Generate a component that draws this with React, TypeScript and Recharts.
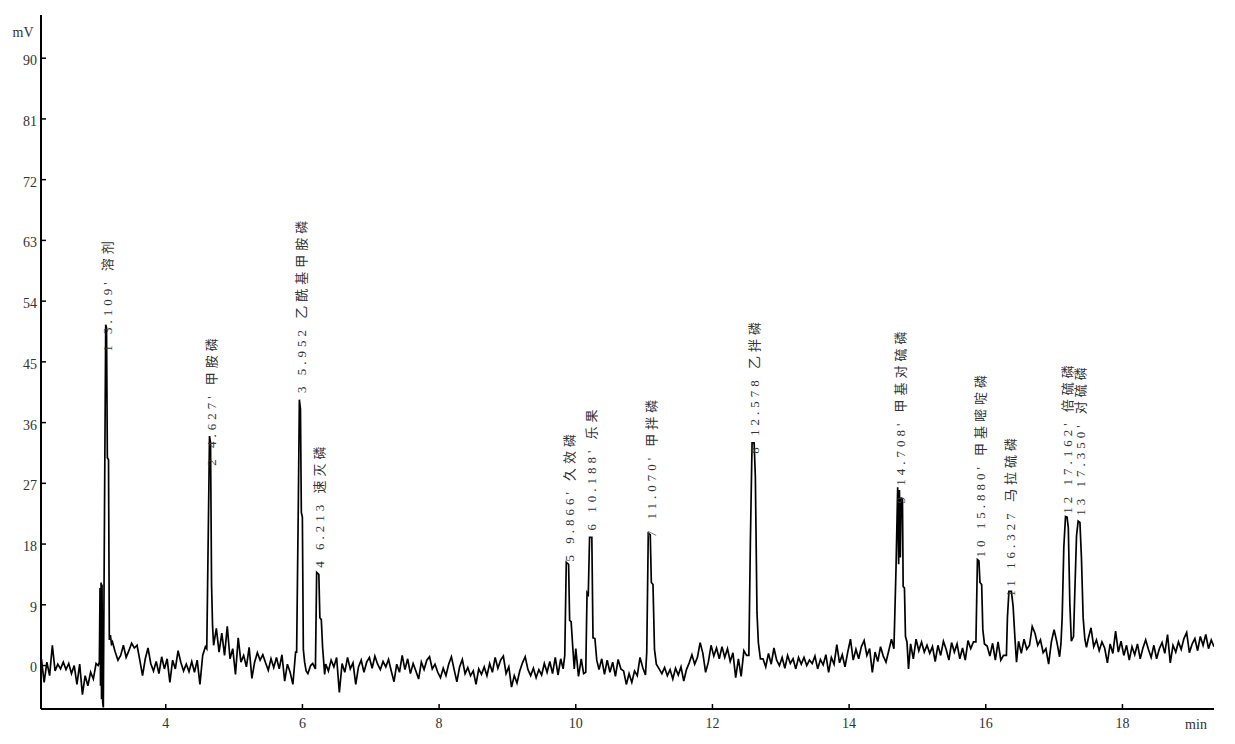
import { ComposedChart, Line, Scatter, XAxis, YAxis } from "recharts"

// detector samples every 0.04 min on the flat stretches
const SAMPLE_STEP = 0.04

// baseline stretches (start time in min, values in mV)
const base1 = { start: 2.18, values: [1.0, -2.5, 0.5, -1.5, 3.0, -0.8, 0.2, -0.5, 0.5, -0.6, 0.3, -1.2, 0.0, -2.8, 0.2, -4.3, -1.5, -3.0, -1.0, -2.0, 0.3] }
const base2 = { start: 3.22, values: [3.5, 2.0, 0.8, 1.5, 3.0, 1.2, 2.2, 3.3, 2.6, 3.0, 0.8, -1.5, 1.0, 2.6, 0.3, -0.8, 0.6, -1.2, 1.3, -0.5, 1.0, -2.5, 0.8, -0.5, 2.2, 0.5, -0.8, 0.2, -0.9, 0.6, -1.0, 0.8, -2.8, 1.5, 2.8] }
const base3 = { start: 4.74, values: [5.5, 2.0, 4.8, 1.5, 5.8, 1.0, 2.5, -1.3, 4.1, 0.5, 1.5, -0.2, 2.7, -1.9, 0.5, 1.9, 0.8, 1.6, 0.4, -0.7, 1.0, -0.3, 1.2, -0.5, 1.6, -2.3, 0.2, -1.0, -2.8, 2.0] }
const base4 = { start: 6.34, values: [0.2, -0.8, 0.8, -0.2, 1.2, -4.0, 0.3, -1.0, 1.2, -0.5, 0.4, -2.8, -0.2, 0.8, -1.0, 0.5, 1.2, -0.4, 1.4, 0.2, -0.6, 0.6, -0.2, 0.9, -0.8, -2.4, 0.2, -1.0, 1.5, -0.6] }
const base5 = { start: 7.54, values: [1.0, -1.2, 0.3, -0.8, -2.0, 0.5, -0.6, 0.8, 1.3, -0.5, 0.2, -1.0, -1.8, -0.4, -1.5, 0.2, 1.3, -0.6, -2.4, -0.2, 0.9, -1.2, -0.3, -1.5, -0.8, -2.8, -0.5, -1.3, -0.2, -1.5, 0.3, -1.0, 1.2, -0.4, 0.8, 1.4, -1.2, -0.2, -3.2, -1.5, -2.6, -0.8, 0.4, 1.3, -0.6, -1.5, -0.4, -1.8, -0.6, -1.4, 0.3, -1.0, 0.6, -1.2, 1.2, -1.4, 1.0] }
const base6 = { start: 10.34, values: [-0.6, 1.0, -1.3, 0.8, -1.0, 0.5, -1.6, 0.9, -0.5, -0.8, -2.8, -1.2, -2.5, -0.8, -1.5, 1.2, -0.3, -1.4] }
const base7 = { start: 11.22, values: [-0.5, -1.2, -0.3, -1.5, -0.6, -2.0, -0.4, -1.4, -0.2, -2.3, -0.6, 0.4, 1.6, 0.2, 1.2, 3.4, 1.8, -1.0, 0.5, 3.0, 1.4, 2.6, 1.0, 2.8, 1.2, 2.5, 0.6, 1.9, -1.8, 1.0, -1.6, 2.2, 1.5] }
const base8 = { start: 12.74, values: [1.0, -0.2, 1.8, 0.2, 2.6, 0.8, 0.0, 1.2, -0.4, 1.5, 0.3, 1.0, -0.5, 1.2, 0.2, 1.2, 0.0, 0.8, 0.3, 1.4, -0.5, 0.9, 0.1, 1.6, -1.0, 1.2, 0.2, 3.1, 0.4, 1.6, -0.2, 2.0, 3.9, 0.8, 2.4, 1.0, 2.8, 3.7, 1.5, 2.5, -1.0, 2.0, 0.6, 2.8, 1.4, 0.5, 2.2, 3.9] }
const base9 = { start: 14.90, values: [3.2, 1.0, 3.9, 2.2, 3.5, 2.0, 3.0, 1.8, 2.8, 0.6, 3.0, 1.5, 3.6, 2.4, 0.8, 3.4, 2.0, 3.2, 1.0, 2.6, 0.8, 3.7, 2.5, 3.5] }
const base10 = { start: 16.02, values: [2.9, 1.4, 3.3, 0.8, 3.5, 0.8, 1.5] }
const base11 = { start: 16.48, values: [3.6, 1.8, 3.9, 2.4, 3.0, 5.8, 4.8, 3.0, 3.8, 1.9, 2.5, 0.2, 3.5, 5.3, 3.5, 1.3] }
const base12 = { start: 17.50, values: [4.0, 5.6, 2.8, 3.8, 2.2, 3.5, 2.6, 0.4, 3.2, 1.8, 5.1, 2.0, 3.6, 1.5, 3.0, 0.8, 2.8, 1.6, 3.2, 1.0, 2.6, 3.8, 2.4, 1.2, 3.0, 1.0, 2.5, 3.4, 1.8, 4.6, 0.4, 3.0, 2.0, 3.5, 2.4, 4.0, 4.9, 1.9, 3.2, 4.0, 2.2, 4.3, 3.0, 4.6, 2.5, 3.8, 2.8] }

// peak regions, [min, mV]
const peak1 = [[3.010, 0.0], [3.028, 0.5], [3.038, 11.5], [3.045, -3.0], [3.053, 12.3], [3.060, -5.0], [3.067, 12.0], [3.077, -5.5], [3.086, -6.2], [3.101, 19.0], [3.121, 50.5], [3.133, 50.0], [3.145, 30.8], [3.162, 30.5], [3.174, 3.8], [3.190, 4.5], [3.205, 3.2]]
const peak2 = [[4.600, 2.5], [4.625, 22.0], [4.640, 34.0], [4.655, 33.0], [4.670, 12.0], [4.685, 5.8], [4.700, 3.0]]
const peak3 = [[5.915, 2.0], [5.941, 25.0], [5.955, 39.4], [5.971, 38.0], [5.984, 22.7], [5.999, 22.0], [6.013, 2.4], [6.032, 0.5], [6.054, -0.8], [6.080, -1.2], [6.120, 0.0]]
const peak4 = [[6.150, 0.3], [6.190, -0.5], [6.208, 13.8], [6.240, 13.5], [6.255, 7.1], [6.276, 6.8], [6.295, 2.7], [6.325, -1.3]]
const peak5 = [[9.815, -0.5], [9.839, 1.5], [9.861, 15.3], [9.895, 15.0], [9.910, 6.7], [9.932, 6.5], [9.956, 2.7], [9.978, -0.5], [10.000, 2.5], [10.040, -1.6], [10.080, 1.0], [10.115, -1.2]]
const peak6 = [[10.146, -1.0], [10.165, 10.8], [10.183, 10.5], [10.202, 19.0], [10.235, 19.0], [10.252, 4.1], [10.280, 4.0], [10.307, 0.8]]
const peak7 = [[11.039, 2.0], [11.061, 19.6], [11.090, 19.4], [11.106, 12.3], [11.130, 12.0], [11.152, 2.4], [11.179, 0.2]]
const peak8 = [[12.533, 1.5], [12.555, 18.2], [12.580, 33.0], [12.610, 33.0], [12.628, 28.0], [12.652, 7.8], [12.672, 3.4], [12.702, 1.0]]
const peak9 = [[14.656, 2.5], [14.686, 14.2], [14.711, 26.4], [14.725, 15.0], [14.737, 26.0], [14.749, 16.0], [14.762, 24.9], [14.781, 24.5], [14.791, 11.7], [14.810, 11.5], [14.825, 4.3], [14.847, 3.5], [14.869, -0.5]]
const peak10 = [[15.856, 3.5], [15.878, 15.7], [15.900, 15.5], [15.915, 12.3], [15.940, 12.0], [15.957, 5.3], [15.981, 3.2]]
const peak11 = [[16.302, 1.5], [16.317, 7.1], [16.339, 11.0], [16.375, 11.0], [16.400, 8.8], [16.428, 3.9], [16.450, 0.5]]
const peak12and13 = [[17.100, 3.2], [17.118, 7.1], [17.142, 17.5], [17.167, 22.1], [17.190, 22.0], [17.208, 20.4], [17.230, 9.3], [17.252, 3.6], [17.284, 4.3], [17.303, 10.8], [17.328, 19.2], [17.352, 21.4], [17.378, 21.2], [17.400, 16.0], [17.425, 7.1], [17.450, 3.9], [17.474, 2.7]]

// peak table
const peakNo = [1, 2, 3, 4, 5, 6, 7, 8, 9, 10, 11, 12, 13]
const peakRt = [3.109, 4.627, 5.952, 6.213, 9.866, 10.188, 11.070, 12.578, 14.708, 15.880, 16.327, 17.162, 17.350]
const peakRtText = ["3.109'", "4.627'", "5.952", "6.213", "9.866'", "10.188'", "11.070'", "12.578", "14.708'", "15.880'", "16.327", "17.162'", "17.350'"]
const peakNames = ["溶剂", "甲胺磷", "乙酰基甲胺磷", "速灭磷", "久效磷", "乐果", "甲拌磷", "乙拌磷", "甲基对硫磷", "甲基嘧啶磷", "马拉硫磷", "倍硫磷", "对硫磷"]
const labelBase = [46.5, 29.6, 40.4, 14.5, 15.4, 20.0, 19.0, 31.4, 24.0, 16.0, 10.2, 22.5, 22.2]

const yTicks = [0, 9, 18, 27, 36, 45, 54, 63, 72, 81, 90]
const xTicks = [4, 6, 8, 10, 12, 14, 16, 18]

const FONT = "'Liberation Serif', 'Times New Roman', 'Noto Sans CJK SC', serif"

const segments = [base1, base2, base3, base4, base5, base6, base7, base8, base9, base10, base11, base12]
const peaks = [peak1, peak2, peak3, peak4, peak5, peak6, peak7, peak8, peak9, peak10, peak11, peak12and13]

const trace: { t: number; v: number }[] = []
segments.forEach((s) => s.values.forEach((v, i) => trace.push({ t: +(s.start + i * SAMPLE_STEP).toFixed(3), v })))
peaks.forEach((p) => p.forEach(([t, v]) => trace.push({ t, v })))
trace.sort((a, b) => a.t - b.t)

const labels = peakNo.map((n, i) => ({
  t: peakRt[i],
  v: labelBase[i],
  text: `${n} ${peakRtText[i]} ${peakNames[i]}`,
}))

const YTick = ({ x, y, payload }: any) => (
  <g>
    <line x1={x} x2={x + 5} y1={y} y2={y} stroke="#000" strokeWidth={1.5} />
    <text x={x - 4} y={y + 2} dy="0.35em" textAnchor="end" fontSize={14} fontFamily={FONT} fill="#333">
      {payload.value}
    </text>
  </g>
)

const XTick = ({ x, y, payload }: any) => (
  <g>
    <line x1={x} x2={x} y1={y} y2={y - 5} stroke="#000" strokeWidth={1.5} />
    <text x={x} y={y + 14} dy="0.35em" textAnchor="middle" fontSize={14} fontFamily={FONT} fill="#333">
      {payload.value}
    </text>
  </g>
)

const PeakLabel = ({ cx, cy, payload }: any) => {
  const x = cx + 2.5
  return (
    <text
      x={x}
      y={cy}
      dy="0.35em"
      transform={`rotate(-90 ${x} ${cy})`}
      fontSize={13}
      letterSpacing={4}
      fontFamily={FONT}
      fill="#333"
    >
      {payload.text}
    </text>
  )
}

export default function App() {
  return (
    <div style={{ position: "absolute", left: 0, top: 0, background: "#fff" }}>
      <ComposedChart width={1235} height={744} data={trace} margin={{ top: 15, right: 21, bottom: 0, left: 0 }}>
        <XAxis
          dataKey="t"
          type="number"
          domain={[2.174, 19.34]}
          ticks={xTicks}
          interval={0}
          height={35}
          tickSize={0}
          tickMargin={0}
          tickLine={false}
          tick={<XTick />}
          axisLine={{ stroke: "#000", strokeWidth: 2 }}
          allowDataOverflow
          label={({ viewBox }: any) => (
            <text x={viewBox.x + viewBox.width - 18} y={viewBox.y + 20} textAnchor="middle" fontSize={14} fontFamily={FONT} fill="#333">
              min
            </text>
          )}
        />
        <YAxis
          type="number"
          domain={[-6.44, 96.4]}
          ticks={yTicks}
          interval={0}
          width={41}
          tickSize={0}
          tickMargin={0}
          tickLine={false}
          tick={<YTick />}
          axisLine={{ stroke: "#000", strokeWidth: 2 }}
          allowDataOverflow
          label={({ viewBox }: any) => (
            <text x={23} y={viewBox.y + 22} textAnchor="middle" fontSize={14} fontFamily={FONT} fill="#333">
              mV
            </text>
          )}
        />
        <Line type="linear" dataKey="v" stroke="#000" strokeWidth={1.7} dot={false} isAnimationActive={false} />
        <Scatter data={labels} dataKey="v" shape={<PeakLabel />} isAnimationActive={false} />
      </ComposedChart>
    </div>
  )
}
